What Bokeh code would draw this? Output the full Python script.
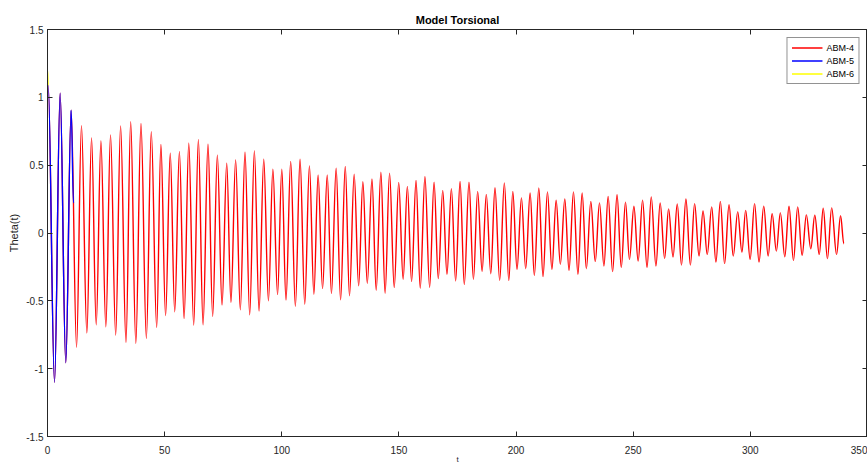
from bokeh.plotting import figure
from bokeh.models import (ColumnDataSource, Range1d, FixedTicker, LinearAxis,
                          Legend, LegendItem)
from bokeh.embed import file_html
from bokeh.resources import INLINE

# ---- data (extrema of each trace: time, value) ----
abm4_t = [0.3, 3.0, 5.4, 7.8, 10.1, 12.4, 14.5, 16.8, 18.8, 20.8, 22.8, 24.9, 26.9, 29.1,
          31.2, 33.5, 35.5, 37.7, 39.9, 42.2, 44.3, 46.6, 48.4, 50.4, 52.4, 54.3, 56.3,
          58.3, 60.3, 62.4, 64.4, 66.4, 68.5, 70.5, 72.5, 74.5, 76.5, 78.3, 80.3, 82.3,
          84.3, 86.3, 88.3, 90.3, 92.3, 94.3, 96.2, 98.2, 100.0, 101.8, 103.8, 105.8,
          107.8, 109.8, 111.8, 113.7, 115.5, 117.4, 119.4, 121.2, 123.2, 125.1, 127.1,
          128.9, 130.9, 132.8, 134.6, 136.5, 138.5, 140.3, 142.3, 144.1, 146.0, 148.0,
          149.9, 151.8, 153.6, 155.4, 157.3, 159.1, 161.1, 163.1, 165.0, 166.8, 168.7,
          170.5, 172.4, 174.2, 176.1, 177.9, 179.9, 181.8, 183.6, 185.5, 187.3, 189.2,
          191.0, 193.0, 195.0, 196.9, 198.6, 200.4, 202.3, 204.1, 206.0, 207.8, 209.7,
          211.5, 213.4, 215.3, 217.1, 218.9, 220.8, 222.6, 224.5, 226.4, 228.2, 230.0,
          231.9, 233.8, 235.6, 237.5, 239.3, 241.2, 243.1, 244.9, 246.7, 248.4, 250.3,
          252.1, 254.0, 255.9, 257.7, 259.7, 261.5, 263.4, 265.1, 267.0, 268.8, 270.6,
          272.5, 274.4, 276.2, 278.1, 279.8, 281.6, 283.5, 285.3, 287.2, 289.0, 290.9,
          292.7, 294.6, 296.4, 298.0, 299.9, 301.8, 303.7, 305.7, 307.6, 309.3, 311.1,
          312.8, 314.7, 316.5, 318.4, 320.2, 322.1, 323.9, 325.8, 327.5, 329.4, 331.1,
          332.9, 334.7, 336.8, 338.5, 339.9]
abm4_v = [1.09, -1.10, 1.03, -0.957, 0.906, -0.842, 0.791, -0.737, 0.70, -0.676, 0.679,
          -0.691, 0.723, -0.752, 0.789, -0.806, 0.82, -0.813, 0.808, -0.776, 0.747,
          -0.696, 0.652, -0.61, 0.588, -0.581, 0.60, -0.63, 0.662, -0.679, 0.688, -0.676,
          0.654, -0.615, 0.574, -0.532, 0.515, -0.512, 0.539, -0.566, 0.596, -0.603,
          0.605, -0.576, 0.544, -0.50, 0.471, -0.454, 0.471, -0.495, 0.527, -0.541,
          0.544, -0.525, 0.495, -0.451, 0.427, -0.41, 0.427, -0.446, 0.478, -0.493,
          0.49, -0.463, 0.434, -0.39, 0.378, -0.37, 0.398, -0.422, 0.449, -0.444, 0.441,
          -0.402, 0.373, -0.341, 0.344, -0.358, 0.388, -0.407, 0.417, -0.40, 0.375,
          -0.336, 0.314, -0.304, 0.326, -0.353, 0.38, -0.38, 0.375, -0.341, 0.307,
          -0.282, 0.285, -0.30, 0.334, -0.349, 0.368, -0.35, 0.307, -0.268, 0.258,
          -0.263, 0.295, -0.312, 0.332, -0.321, 0.302, -0.268, 0.241, -0.231, 0.251,
          -0.275, 0.302, -0.304, 0.295, -0.263, 0.233, -0.211, 0.222, -0.243, 0.27,
          -0.285, 0.282, -0.255, 0.227, -0.194, 0.197, -0.207, 0.241, -0.255, 0.266,
          -0.243, 0.222, -0.187, 0.177, -0.177, 0.214, -0.236, 0.251, -0.236, 0.216,
          -0.17, 0.163, -0.158, 0.192, -0.214, 0.233, -0.226, 0.209, -0.17, 0.156,
          -0.141, 0.167, -0.194, 0.216, -0.214, 0.197, -0.17, 0.143, -0.133, 0.148,
          -0.175, 0.197, -0.202, 0.192, -0.165, 0.133, -0.116, 0.131, -0.158, 0.182,
          -0.189, 0.185, -0.158, 0.128, -0.079]

abm5_t = [0.3, 3.0, 5.4, 7.8, 10.1, 11.1]
abm5_v = [1.09, -1.10, 1.03, -0.957, 0.906, 0.22]

abm6_t = [0.0, 0.3]
abm6_v = [1.2, 1.09]

x_ticks = [0, 50, 100, 150, 200, 250, 300, 350]
y_ticks = [-1.5, -1.0, -0.5, 0.0, 0.5, 1.0, 1.5]
y_tick_labels = ["-1.5", "-1", "-0.5", "0", "0.5", "1", "1.5"]

series = [("ABM-4", abm4_t, abm4_v, "#ff0000"),
          ("ABM-5", abm5_t, abm5_v, "#0000ff"),
          ("ABM-6", abm6_t, abm6_v, "#ffff00")]

K = 0.3634  # Bezier handle fraction giving a sinusoidal shape between extrema

FONT = "Liberation Sans"
AX = "#262626"

p = figure(width=867, height=466, output_backend="svg", toolbar_location=None,
           x_range=Range1d(0, 350), y_range=Range1d(-1.5, 1.5),
           min_border_left=47, min_border_right=0, min_border_top=29,
           min_border_bottom=28)
p.background_fill_color = "white"
p.border_fill_color = "white"
p.outline_line_color = AX
p.outline_line_width = 1
p.grid.visible = False

p.title.text = "Model Torsional"
p.title.align = "center"
p.title.text_font = FONT
p.title.text_font_size = "11px"
p.title.text_font_style = "bold"
p.title.text_color = "#000000"
p.title.standoff = 7
p.title.offset = 0

def style_axis(ax, show_labels=True):
    ax.axis_line_color = AX
    ax.major_tick_line_color = AX
    ax.major_tick_in = 5
    ax.major_tick_out = 0
    ax.minor_tick_line_color = None
    ax.major_label_text_font = FONT
    if show_labels:
        ax.major_label_text_color = AX
        ax.major_label_text_font_size = "10px"
        ax.major_label_standoff = 4
    else:
        ax.major_label_text_color = None
        ax.major_label_text_font_size = "1px"
        ax.major_label_standoff = 0

xa = p.xaxis[0]
ya = p.yaxis[0]
xa.ticker = FixedTicker(ticks=x_ticks)
ya.ticker = FixedTicker(ticks=y_ticks)
ya.major_label_overrides = {t: s for t, s in zip(y_ticks, y_tick_labels)}
style_axis(xa)
style_axis(ya)
xa.major_label_standoff = 9
xa.axis_label = "t"
xa.axis_label_text_font_size = "8px"
xa.axis_label_standoff = -2
ya.axis_label = "Theta(t)"
ya.axis_label_text_font_size = "11px"
ya.axis_label_standoff = 3
for a in (xa, ya):
    a.axis_label_text_font = FONT
    a.axis_label_text_font_style = "normal"
    a.axis_label_text_color = AX

ra = LinearAxis(ticker=FixedTicker(ticks=y_ticks))
style_axis(ra, show_labels=False)
p.add_layout(ra, "right")
ta = LinearAxis(ticker=FixedTicker(ticks=x_ticks))
style_axis(ta, show_labels=False)
p.add_layout(ta, "above")

items = []
for name, ts, vs, col in series:
    x0 = ts[:-1]; x1 = ts[1:]
    y0 = vs[:-1]; y1 = vs[1:]
    d = [b - a for a, b in zip(x0, x1)]
    src = ColumnDataSource(dict(
        x0=x0, y0=y0, x1=x1, y1=y1,
        cx0=[a + K * dd for a, dd in zip(x0, d)], cy0=y0,
        cx1=[b - K * dd for b, dd in zip(x1, d)], cy1=y1))
    r = p.bezier(x0="x0", y0="y0", x1="x1", y1="y1", cx0="cx0", cy0="cy0",
                 cx1="cx1", cy1="cy1", source=src, line_color=col, line_width=1.4)
    items.append(LegendItem(label=name, renderers=[r]))

leg = Legend(items=items, location="top_right")
leg.margin = 8
leg.padding = 4
leg.spacing = 2
leg.label_text_font = FONT
leg.label_text_font_size = "9px"
leg.label_text_color = "#000000"
leg.label_height = 11
leg.glyph_height = 11
leg.glyph_width = 31
leg.label_standoff = 4
leg.border_line_color = AX
leg.border_line_width = 1
leg.background_fill_color = "white"
leg.background_fill_alpha = 1
p.add_layout(leg, "center")

open("out.html", "w").write(file_html(p, INLINE))
